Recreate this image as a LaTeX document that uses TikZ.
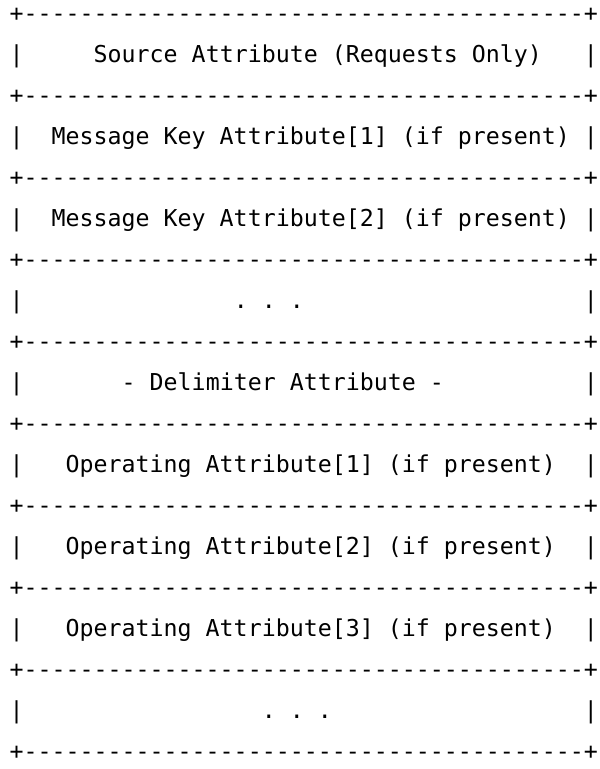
\documentclass[tikz,border=0pt]{standalone}
\usepackage{fontspec}
\setmonofont{DejaVu Sans Mono}
\begin{document}
\begin{tikzpicture}[x=14pt, y=-41pt, asciirow/.style={anchor=base west, inner sep=0pt, font=\ttfamily\fontsize{23.26pt}{28pt}\selectfont}]
\useasboundingbox (-1.179,-0.354) rectangle (41.607,18.402);
\node[asciirow] (b0) at (-0.5,0.18) {+----------------------------------------+};
\node[asciirow] (source) at (-0.5,1.18) {|~~~~~Source Attribute (Requests Only)~~~|};
\node[asciirow] (b1) at (-0.5,2.18) {+----------------------------------------+};
\node[asciirow] (keyone) at (-0.5,3.18) {|~~Message Key Attribute[1] (if present)~|};
\node[asciirow] (b2) at (-0.5,4.18) {+----------------------------------------+};
\node[asciirow] (keytwo) at (-0.5,5.18) {|~~Message Key Attribute[2] (if present)~|};
\node[asciirow] (b3) at (-0.5,6.18) {+----------------------------------------+};
\node[asciirow] (dotsone) at (-0.5,7.18) {|~~~~~~~~~~~~~~~.~.~.~~~~~~~~~~~~~~~~~~~~|};
\node[asciirow] (b4) at (-0.5,8.18) {+----------------------------------------+};
\node[asciirow] (delim) at (-0.5,9.18) {|~~~~~~~- Delimiter Attribute -~~~~~~~~~~|};
\node[asciirow] (b5) at (-0.5,10.18) {+----------------------------------------+};
\node[asciirow] (opone) at (-0.5,11.18) {|~~~Operating Attribute[1] (if present)~~|};
\node[asciirow] (b6) at (-0.5,12.18) {+----------------------------------------+};
\node[asciirow] (optwo) at (-0.5,13.18) {|~~~Operating Attribute[2] (if present)~~|};
\node[asciirow] (b7) at (-0.5,14.18) {+----------------------------------------+};
\node[asciirow] (opthree) at (-0.5,15.18) {|~~~Operating Attribute[3] (if present)~~|};
\node[asciirow] (b8) at (-0.5,16.18) {+----------------------------------------+};
\node[asciirow] (dotstwo) at (-0.5,17.18) {|~~~~~~~~~~~~~~~~~.~.~.~~~~~~~~~~~~~~~~~~|};
\node[asciirow] (b9) at (-0.5,18.18) {+----------------------------------------+};
\end{tikzpicture}
\end{document}
